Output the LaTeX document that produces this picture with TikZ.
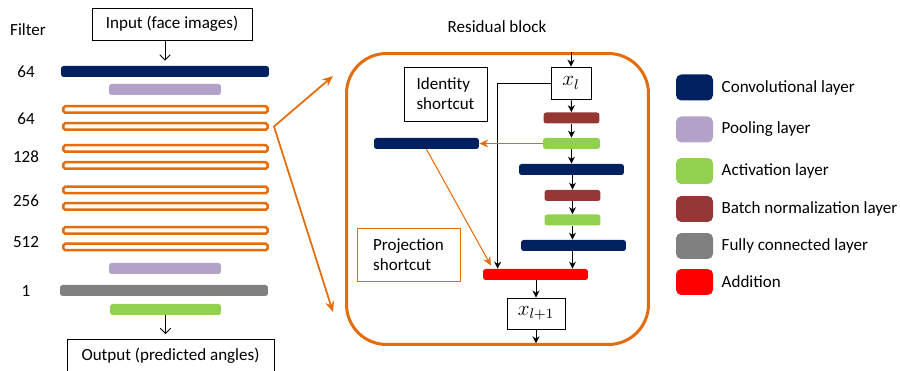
\documentclass[tikz,border=0pt]{standalone}
\usepackage{fontspec}
\setmainfont{Carlito}
\usetikzlibrary{positioning,arrows.meta}
\definecolor{convblue}{HTML}{002060}
\definecolor{poolpurple}{HTML}{B3A2C7}
\definecolor{actgreen}{HTML}{92D050}
\definecolor{bnred}{HTML}{953735}
\definecolor{fcgray}{HTML}{808080}
\definecolor{addred}{HTML}{FF0000}
\definecolor{resorange}{HTML}{E46C0A}

\begin{document}
\begin{tikzpicture}[x=0.02cm,y=-0.02cm,
    every node/.style={font=\fontsize{9.7}{11.5}\selectfont},
    bar/.style={rectangle,rounded corners=1.5pt,minimum height=0.22cm,inner sep=0pt},
    blockbar/.style={rectangle,draw=resorange,line width=0.05cm,rounded corners=1pt,
        minimum width=4.09cm,minimum height=0.13cm,inner sep=0pt},
    box/.style={draw,line width=0.5pt,inner sep=0pt},
    mathbox/.style={box,font=\fontsize{12}{14}\selectfont},
    swatch/.style={rectangle,rounded corners=3pt,minimum width=0.74cm,minimum height=0.52cm,inner sep=0pt},
    flow/.style={-{Stealth[length=4pt,width=4pt]},line width=0.55pt},
    ioflow/.style={-{Straight Barb[length=3pt,width=6pt]},line width=0.55pt},
    shortflow/.style={-{Stealth[length=5pt,width=4.5pt]},draw=resorange,line width=0.6pt},
    zoomline/.style={{Stealth[length=6pt,width=5pt]}-{Stealth[length=6pt,width=5pt]},draw=resorange,line width=1pt}]
    \useasboundingbox (0,0) rectangle (900,371);

    % network overview
    \node (filter) at (28,30) {Filter};
    \node[box,minimum width=3.2cm,minimum height=0.64cm] (inp) at (172,24) {Input (face images)};
    \node[bar,fill=convblue,minimum width=4.16cm] (conv) at (165,71.5) {};
    \node[bar,fill=poolpurple,minimum width=2.24cm] (pool1) at (165,89.5) {};
    \foreach \yy [count=\i] in {109.5,126.5,148.5,165.5,190,206.5,230.5,247}
        \node[blockbar] (res\i) at (165.5,\yy) {};
    \node[bar,fill=poolpurple,minimum width=2.24cm] (pool2) at (165,268.5) {};
    \node[bar,fill=fcgray,minimum width=4.16cm] (fc) at (164,290.5) {};
    \node[bar,fill=actgreen,minimum width=2.22cm] (act) at (165.5,309.5) {};
    \node[box,minimum width=4.14cm,minimum height=0.68cm] (outp) at (170.5,356) {Output (predicted angles)};
    \foreach \yy/\nf in {72/64,119/64,157/128,201/256,242/512,291/1}
        \node at (26,\yy) {\nf};
    \draw[ioflow,shorten >=2.8pt] (inp.south -| conv.north) -- (conv.north);
    \draw[ioflow,shorten >=2.5pt] (act.south) -- (outp.north -| act.south);

    % residual block
    \node at (497,27) {Residual block};
    \node[draw=resorange,line width=0.06cm,rounded corners=0.8cm,minimum width=6.04cm,
        minimum height=5.82cm] (resblock) at (497.5,199) {};
    \coordinate (zoomtop) at (333,76);
    \coordinate (zoombot) at (333,312);
    \draw[zoomline] (zoomtop) -- ([xshift=0.1cm]res2.east) -- (zoombot);

    \node[mathbox,minimum width=0.8cm,minimum height=0.64cm] (xl) at (571,83) {\(x_l\)};
    \node[bar,fill=bnred,minimum width=1.12cm] (bn1) at (571.5,118) {};
    \node[bar,fill=actgreen,minimum width=1.14cm] (act1) at (571.5,143.5) {};
    \node[bar,fill=convblue,minimum width=2.1cm] (rconv1) at (571.5,169.5) {};
    \node[bar,fill=bnred,minimum width=1.12cm] (bn2) at (572.5,195.5) {};
    \node[bar,fill=actgreen,minimum width=1.12cm] (act2) at (572.5,220) {};
    \node[bar,fill=convblue,minimum width=2.1cm] (rconv2) at (573.5,245.5) {};
    \node[bar,fill=addred,minimum width=2.1cm] (add) at (535.5,274.5) {};
    \node[mathbox,minimum width=1.16cm,minimum height=0.62cm] (xl1) at (536,313.5) {\(x_{l+1}\)};

    \draw[flow] (resblock.north -| xl.north) -- (xl.north);
    \draw[flow] (xl) -- (bn1);
    \draw[flow] (bn1) -- (act1);
    \draw[flow] (act1) -- (rconv1.north -| act1.south);
    \draw[flow] (rconv1.south -| bn2.north) -- (bn2);
    \draw[flow] (bn2) -- (act2);
    \draw[flow] (act2) -- (rconv2.north -| act2.south);
    \draw[flow] (rconv2.south -| act2.south) -- (add.north -| act2.south);
    \draw[flow] (add.south -| xl1.north) -- (xl1.north);
    \draw[flow,shorten >=1.5pt] (xl1.south) -- (resblock.south -| xl1.south);
    \draw[flow] (xl.west) -| ([xshift=0.3cm]add.north west);

    % shortcuts
    \node[box,minimum width=1.66cm,minimum height=1.08cm,align=left] (idbox) at (445.5,94) {Identity\\shortcut};
    \node[bar,fill=convblue,minimum width=2.1cm] (pconv) at (426.5,143.5) {};
    \node[box,draw=resorange,minimum width=2.06cm,minimum height=1.06cm,align=left] (projbox) at (408.5,254.5) {Projection\\shortcut};
    \draw[shortflow] (act1.west) -- (pconv.east);
    \draw[shortflow,shorten >=2pt] (pconv.south) -- ([xshift=0.2cm]add.north west);

    % legend
    \foreach \yy/\col/\txt [count=\i] in {87.5/convblue/Convolutional layer,129.5/poolpurple/Pooling layer,
        171/actgreen/Activation layer,209/bnred/Batch normalization layer,246/fcgray/Fully connected layer,282/addred/Addition} {
        \node[swatch,fill=\col] (key\i) at (694.5,\yy) {};
        \node[right=0.16cm of key\i,inner sep=0pt] (keytext\i) {\txt};
    }
\end{tikzpicture}
\end{document}
